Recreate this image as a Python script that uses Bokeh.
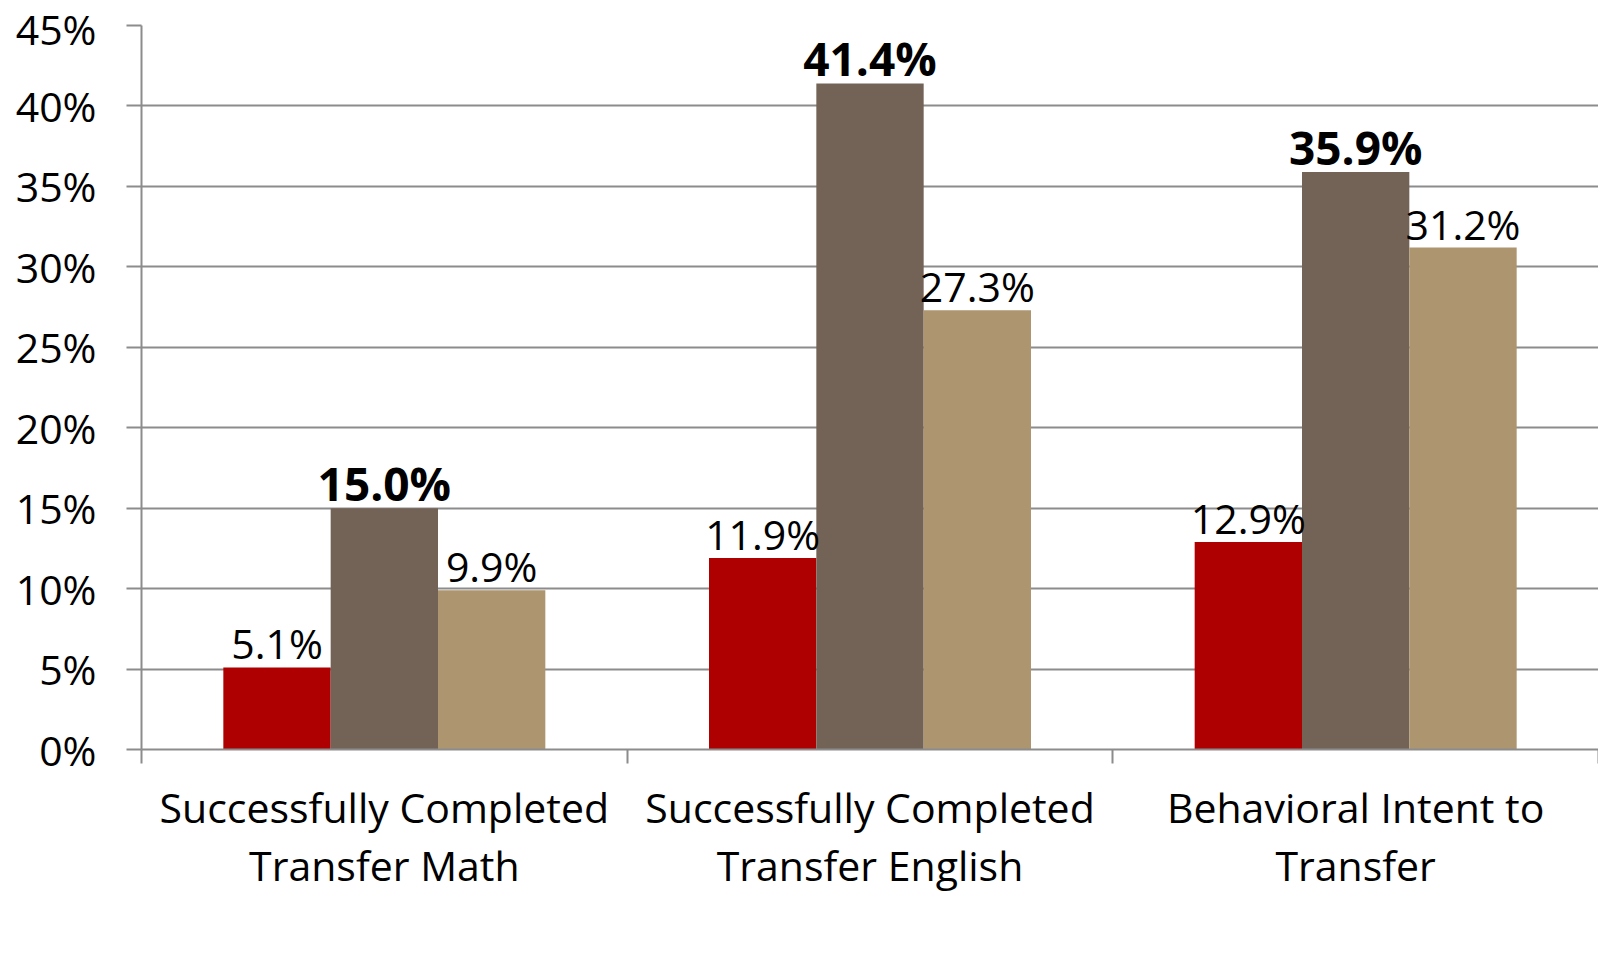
from bokeh.plotting import figure
from bokeh.models import (ColumnDataSource, FixedTicker, Range1d, Legend, LegendItem,
                          PrintfTickFormatter, LinearAxis)
from bokeh.core.properties import value
from bokeh.embed import file_html
from bokeh.resources import INLINE

categories = ["Successfully Completed\nTransfer Math",
              "Successfully Completed\nTransfer English",
              "Behavioral Intent to\nTransfer"]
series_names = ["F2011 LBUSD  (N=1660)", "F2012 Promise Pathways (N=976)", "F2006 LBUSD 6 Year Rate"]
f2011_lbusd = [5.1, 11.9, 12.9]
f2012_promise = [15.0, 41.4, 35.9]
f2006_lbusd_6yr = [9.9, 27.3, 31.2]
y_ticks = [0, 5, 10, 15, 20, 25, 30, 35, 40, 45]

colors = ["#ae0000", "#736357", "#ad9570"]
FONT = "Open Sans"
GRID = "#8c8c8c"
BW = 0.221

p = figure(width=1598, height=958, x_range=Range1d(0, 3), y_range=Range1d(0, 45),
           output_backend="svg", toolbar_location=None,
           min_border_left=141, min_border_right=0, min_border_top=25, min_border_bottom=209)
p.outline_line_color = None
p.background_fill_color = "white"
p.border_fill_color = "white"

# bars
renderers = []
all_vals = [f2011_lbusd, f2012_promise, f2006_lbusd_6yr]
offsets = [-BW, 0.0, BW]
for k, vals in enumerate(all_vals):
    xs = [i + 0.5 + offsets[k] for i in range(len(categories))]
    src = ColumnDataSource(dict(x=xs, top=vals))
    r = p.vbar(x="x", top="top", bottom=0, width=BW, source=src, fill_color=colors[k],
               line_color=None)
    renderers.append(r)

for k, vals in enumerate(all_vals):
    xs = [i + 0.5 + offsets[k] for i in range(len(categories))]
    src = ColumnDataSource(dict(x=xs, y=vals, lab=["%.1f%%" % v for v in vals]))
    bold = (k == 1)
    p.text(x="x", y="y", text="lab", source=src, text_align="center",
           text_baseline="alphabetic", y_offset=-25 if bold else -24,
           text_font=value(FONT), text_font_size="46px" if bold else "41px",
           text_font_style="bold" if bold else "normal", text_color="black")

# y axis
p.yaxis.ticker = FixedTicker(ticks=y_ticks)
p.yaxis.formatter = PrintfTickFormatter(format="%d%%")
p.yaxis.major_label_text_font = FONT
p.yaxis.major_label_text_font_size = "41px"
p.yaxis.major_label_text_color = "black"
p.yaxis.major_tick_out = 15
p.yaxis.major_tick_in = 0
p.yaxis.minor_tick_line_color = None
p.yaxis.major_tick_line_color = GRID
p.yaxis.major_tick_line_width = 2
p.yaxis.axis_line_color = GRID
p.yaxis.axis_line_width = 2
p.yaxis.major_label_standoff = 30

p.ygrid.ticker = FixedTicker(ticks=y_ticks)
p.ygrid.grid_line_color = GRID
p.ygrid.grid_line_width = 2
p.xgrid.grid_line_color = None

# x axis
p.xaxis.ticker = FixedTicker(ticks=[i + 0.5 for i in range(len(categories))],
                             minor_ticks=list(range(len(categories) + 1)))
p.xaxis.major_label_overrides = {i + 0.5: c for i, c in enumerate(categories)}
p.xaxis.major_tick_line_color = None
p.xaxis.major_tick_out = 0
p.xaxis.major_tick_in = 0
p.xaxis.minor_tick_out = 14
p.xaxis.minor_tick_in = 0
p.xaxis.minor_tick_line_color = GRID
p.xaxis.minor_tick_line_width = 2
p.xaxis.axis_line_color = GRID
p.xaxis.axis_line_width = 2
p.xaxis.major_label_text_font = FONT
p.xaxis.major_label_text_font_size = "41px"
p.xaxis.major_label_text_color = "black"
p.xaxis.major_label_text_line_height = 1.04
p.xaxis.major_label_standoff = 15

# empty spacer axis below the category axis, reserving room for the legend row
spacer = LinearAxis(ticker=FixedTicker(ticks=[]), axis_line_color=None,
                    major_tick_line_color=None, minor_tick_line_color=None,
                    major_label_text_font_size="0px", axis_label=" ",
                    axis_label_text_font_size="30px", axis_label_standoff=0)
p.add_layout(spacer, "below")

legend = Legend(items=[LegendItem(label=series_names[k], renderers=[renderers[k]]) for k in range(3)],
                orientation="horizontal", location=(-28, -201),
                label_text_font=FONT, label_text_font_size="33px", label_text_color="black",
                glyph_width=21, glyph_height=22, label_standoff=9, spacing=36,
                border_line_color=None, background_fill_alpha=0, padding=0, margin=0)
p.add_layout(legend, "center")

open("out.html", "w").write(file_html(p, INLINE))
